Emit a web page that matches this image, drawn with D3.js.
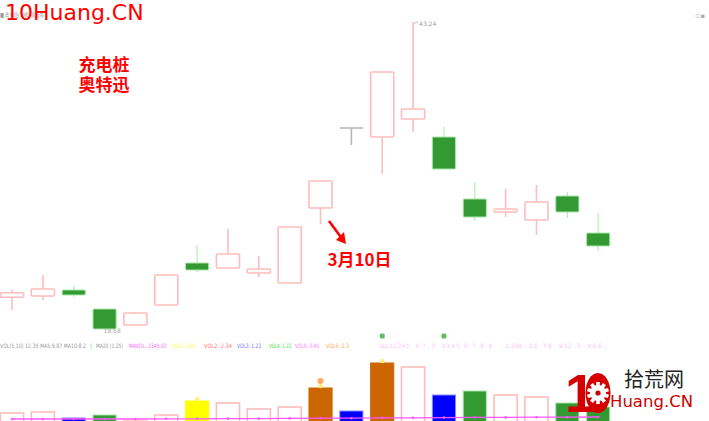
<!DOCTYPE html>
<html lang="zh">
<head>
<meta charset="UTF-8">
<title>奥特迅 日K线</title>
<script src="https://cdn.jsdelivr.net/npm/d3@7/dist/d3.min.js"></script>
<style>
    body { margin: 0; background: #fff; }
    svg { display: block; }
</style>
</head>
<body>
<svg width="709" height="421" id="main"></svg>
<script>
    // trading days shown
    const dates = ['02-17', '02-25', '02-26', '02-27', '03-02', '03-03', '03-04', '03-05', '03-06', '03-09',
        '03-10', '03-11', '03-12', '03-13', '03-16', '03-17', '03-18', '03-19', '03-20', '03-23'];
    const open  = [21.22, 21.32, 21.80, 20.28, 19.00, 20.60, 23.96, 23.56, 23.16, 22.36,
        28.36, 34.76, 34.04, 35.48, 34.04, 29.08, 28.04, 27.40, 29.32, 26.36];
    const high  = [21.80, 23.00, 22.12, 20.28, 20.04, 23.00, 25.40, 26.68, 24.52, 26.84,
        30.52, 34.76, 39.24, 43.24, 34.84, 30.44, 29.88, 30.20, 29.64, 27.96];
    const low   = [20.20, 21.00, 21.24, 18.68, 19.00, 20.60, 23.24, 23.56, 22.84, 22.36,
        27.08, 33.40, 31.08, 34.44, 31.48, 27.32, 27.64, 26.20, 27.56, 24.92];
    const close = [21.58, 21.88, 21.40, 18.68, 19.96, 23.00, 23.40, 24.68, 23.48, 26.84,
        30.52, 34.76, 39.24, 36.28, 31.48, 27.64, 28.28, 28.84, 28.04, 25.32];

    // volume (万手) and bar class used by the software
    const volume  = [5.0, 5.5, 2.5, 4.0, 1.0, 4.0, 11.0, 10.0, 7.0, 8.0,
        17.5, 6.0, 30.0, 28.0, 14.0, 16.0, 14.0, 13.0, 10.0, 8.0];
    const volKind = ['up', 'up', 'low', 'down', 'up', 'up', 'mid', 'up', 'up', 'up',
        'high', 'low', 'high', 'up', 'low', 'down', 'up', 'up', 'down', 'down'];
    const volLine = [2.0, 2.0, 2.0, 2.0, 2.0, 2.1, 2.1, 2.2, 2.2, 2.3,
        2.4, 2.4, 2.6, 2.6, 2.7, 2.8, 2.8, 2.9, 2.9, 3.0];

    const svg = d3.select('#main');

    const x = d3.scaleBand().domain(dates)
        .range([-3.4, 613.6]).paddingInner(0.25).paddingOuter(0.125);
    const y = d3.scaleLinear().domain([20, 40]).range([312.5, 62.5]);
    const yv = d3.scaleLinear().domain([0, 40]).range([423, 343]);

    const pink = '#ffbcbc', green = '#339933', greenLine = '#b4efb4', flat = '#b8b8b8';
    const volColor = d3.scaleOrdinal()
        .domain(['up', 'down', 'low', 'mid', 'high'])
        .range([pink, green, '#0000ff', '#ffff00', '#cc6600']);

    const candles = dates.map((d, i) => ({d, o: open[i], h: high[i], l: low[i], c: close[i]}));
    const kind = k => k.c > k.o ? 'up' : (k.c < k.o ? 'down' : 'flat');
    const cx = d => x(d) + x.bandwidth() / 2;

    // ---- candlesticks
    const gk = svg.append('g');
    gk.selectAll('line.wick')
        .data(candles)
        .join('line')
        .attr('class', 'wick')
        .attr('x1', k => cx(k.d)).attr('x2', k => cx(k.d))
        .attr('y1', k => y(k.h)).attr('y2', k => y(k.l))
        .attr('stroke', k => kind(k) === 'up' ? pink : kind(k) === 'down' ? greenLine : flat)
        .attr('stroke-width', k => kind(k) === 'down' ? 1.2 : 1.6);

    gk.selectAll('rect.body')
        .data(candles.filter(k => kind(k) !== 'flat'))
        .join('rect')
        .attr('class', 'body')
        .attr('x', k => x(k.d))
        .attr('width', x.bandwidth())
        .attr('y', k => y(Math.max(k.o, k.c)))
        .attr('height', k => Math.max(1.5, y(Math.min(k.o, k.c)) - y(Math.max(k.o, k.c))))
        .attr('rx', 1)
        .attr('fill', k => kind(k) === 'up' ? '#fff' : green)
        .attr('stroke', k => kind(k) === 'up' ? pink : '#a8e6a8')
        .attr('stroke-width', k => kind(k) === 'up' ? 1.6 : 1);

    gk.selectAll('line.flat')
        .data(candles.filter(k => kind(k) === 'flat'))
        .join('line')
        .attr('class', 'flat')
        .attr('x1', k => x(k.d)).attr('x2', k => x(k.d) + x.bandwidth())
        .attr('y1', k => y(k.c)).attr('y2', k => y(k.c))
        .attr('stroke', flat).attr('stroke-width', 1.6);

    // high / low marks
    const iHi = d3.maxIndex(high), iLo = d3.minIndex(low);
    svg.append('path')
        .attr('d', `M${cx(dates[iHi]) + 1},${y(high[iHi]) + 2}l2,-2l2,1`)
        .attr('stroke', '#aaa').attr('fill', 'none').attr('stroke-width', 0.8);
    svg.append('text').attr('x', cx(dates[iHi]) + 6).attr('y', y(high[iHi]) + 3.5)
        .attr('font-size', 6).attr('fill', '#999').attr('font-family', 'DejaVu Sans')
        .text(high[iHi].toFixed(2));
    svg.append('text').attr('x', cx(dates[iLo]) - 1).attr('y', y(low[iLo]) + 4)
        .attr('font-size', 6).attr('fill', '#aaa').attr('font-family', 'DejaVu Sans')
        .text(low[iLo].toFixed(2));

    // ---- volume
    const gv = svg.append('g');
    gv.selectAll('rect')
        .data(dates)
        .join('rect')
        .attr('x', d => x(d))
        .attr('width', x.bandwidth())
        .attr('y', (d, i) => yv(volume[i]))
        .attr('height', (d, i) => yv(0) - yv(volume[i]))
        .attr('fill', (d, i) => volKind[i] === 'up' ? '#fff' : volColor(volKind[i]))
        .attr('stroke', (d, i) => volKind[i] === 'up' ? pink
            : volKind[i] === 'low' ? '#8888ff' : volKind[i] === 'down' ? '#a8e6a8' : volColor(volKind[i]))
        .attr('stroke-width', (d, i) => volKind[i] === 'up' ? 1.6 : 1);

    gv.selectAll('circle.mark')
        .data(dates.filter((d, i) => volKind[i] === 'mid' || volKind[i] === 'high'))
        .join('circle')
        .attr('class', 'mark')
        .attr('cx', d => cx(d))
        .attr('cy', d => yv(volume[dates.indexOf(d)]) - 2)
        .attr('r', 2.2)
        .attr('fill', '#ffee77');
    gv.append('circle')
        .attr('cx', cx('03-10')).attr('cy', yv(volume[10]) - 7).attr('r', 3)
        .attr('fill', '#ffaa66');

    const vline = d3.line().x((v, i) => cx(dates[i])).y(v => yv(v));
    gv.append('path').datum(volLine)
        .attr('d', vline).attr('fill', 'none')
        .attr('stroke', '#ff55ff').attr('stroke-width', 1.3);
    gv.selectAll('circle.ma')
        .data(volLine)
        .join('circle')
        .attr('class', 'ma')
        .attr('cx', (v, i) => cx(dates[i])).attr('cy', v => yv(v)).attr('r', 1.3)
        .attr('fill', '#ff55ff');

    // small indicator marks above the volume area
    [['03-12', 336], ['03-16', 336]].forEach(([d, yy]) => {
        svg.append('rect').attr('x', cx(d) - 2.5).attr('y', yy - 2.5)
            .attr('width', 5).attr('height', 5).attr('rx', 1.5).attr('fill', '#66bb66');
    });

    // legend line of the volume pane
    const legend = [
        ['VOL(5,10) 12.35 MA5:9.87 MA10:8.2', '#9a9a9a', 0, 86],
        ['|', '#66dd66', 90, 2],
        ['MA20 (1.25)', '#9a9a9a', 96, 27],
        ['MAVOL: 2345.67', '#ff66ff', 129, 38],
        ['VOL1: 3.45', '#ffff33', 172, 24],
        ['VOL2: 2.34', '#ff7777', 204, 28],
        ['VOL3: 1.23', '#7777ff', 237, 24],
        ['VOL4: 1.23', '#44dd44', 269, 22],
        ['VOL5: 3.45', '#ff77ff', 295, 24],
        ['VOL6: 2.3', '#ffaa55', 326, 23],
        ['ADL 1.2 3 4 5 . . 6 . 7 . . 8', '#ffbbff', 380, 55],
        ['V.3 4.5 . 6 . 7 . 8 . 9', '#ffbbff', 442, 50],
        ['. 1.234 .. 5.6 . 7.8 .. 9.12 . 3 .. 4.5 6 ..', '#ffbbff', 502, 105]
    ];
    svg.append('g').selectAll('text')
        .data(legend)
        .join('text')
        .attr('x', d => d[2]).attr('y', 348)
        .attr('font-size', 6).attr('font-family', 'DejaVu Sans')
        .attr('fill', d => d[1])
        .attr('textLength', d => d[3]).attr('lengthAdjust', 'spacingAndGlyphs')
        .text(d => d[0]);

    // top small labels
    svg.append('text').attr('x', 0).attr('y', 17).attr('font-size', 6)
        .attr('fill', '#999').attr('font-family', 'DejaVu Sans')
        .attr('textLength', 44).attr('lengthAdjust', 'spacingAndGlyphs')
        .text('■ 奥特迅(日线) 前复权');
    svg.append('text').attr('x', 695).attr('y', 18).attr('font-size', 6.5)
        .attr('fill', '#aaa').attr('font-family', 'DejaVu Sans').text('⊂▪');

    // ---- annotations
    svg.append('text').attr('x', 5).attr('y', 20)
        .attr('font-family', 'DejaVu Sans').attr('font-size', 22)
        .attr('fill', '#ff0000').text('10Huang.CN');

    const cjk = '"Noto Sans CJK SC", sans-serif';
    svg.append('g').selectAll('text')
        .data(['充电桩', '奥特迅'])
        .join('text')
        .attr('x', 104).attr('y', (d, i) => 71 + i * 20)
        .attr('text-anchor', 'middle')
        .attr('font-family', cjk).attr('font-weight', 'bold').attr('font-size', 17)
        .attr('fill', '#ff0000').text(d => d);

    svg.append('path')
        .attr('d', 'M329,221L343,240')
        .attr('stroke', '#ff0000').attr('stroke-width', 2.6).attr('fill', 'none');
    svg.append('path')
        .attr('d', 'M346,244L336,240L344,232Z')
        .attr('fill', '#ff0000');
    svg.append('text').attr('x', 359.5).attr('y', 266)
        .attr('text-anchor', 'middle')
        .attr('font-family', cjk).attr('font-weight', 'bold').attr('font-size', 17)
        .attr('fill', '#ff0000').text('3月10日');

    // ---- logo
    const logo = svg.append('g');
    logo.append('text').attr('x', 565).attr('y', 412)
        .attr('font-family', 'Liberation Sans').attr('font-weight', 'bold').attr('font-size', 54)
        .attr('fill', '#d40000').text('1');
    logo.append('ellipse').attr('cx', 598).attr('cy', 393).attr('rx', 12.5).attr('ry', 20)
        .attr('fill', '#d40000');
    const teeth = d3.range(10).map(i => i * 36);
    logo.selectAll('rect.tooth')
        .data(teeth)
        .join('rect')
        .attr('class', 'tooth')
        .attr('x', -1.8).attr('y', -11).attr('width', 3.6).attr('height', 4)
        .attr('transform', a => `translate(598,393) rotate(${a})`)
        .attr('fill', '#fff');
    logo.append('circle').attr('cx', 598).attr('cy', 393).attr('r', 8).attr('fill', '#fff');
    logo.append('circle').attr('cx', 598).attr('cy', 393).attr('r', 2.6).attr('fill', '#d40000');
    logo.append('text').attr('x', 624).attr('y', 387)
        .attr('font-family', cjk).attr('font-size', 20)
        .attr('fill', '#222').text('拾荒网');
    logo.append('text').attr('x', 610).attr('y', 407)
        .attr('font-family', 'DejaVu Sans').attr('font-size', 16.5)
        .attr('fill', '#cc0000').text('Huang.CN');
</script>
</body>
</html>
